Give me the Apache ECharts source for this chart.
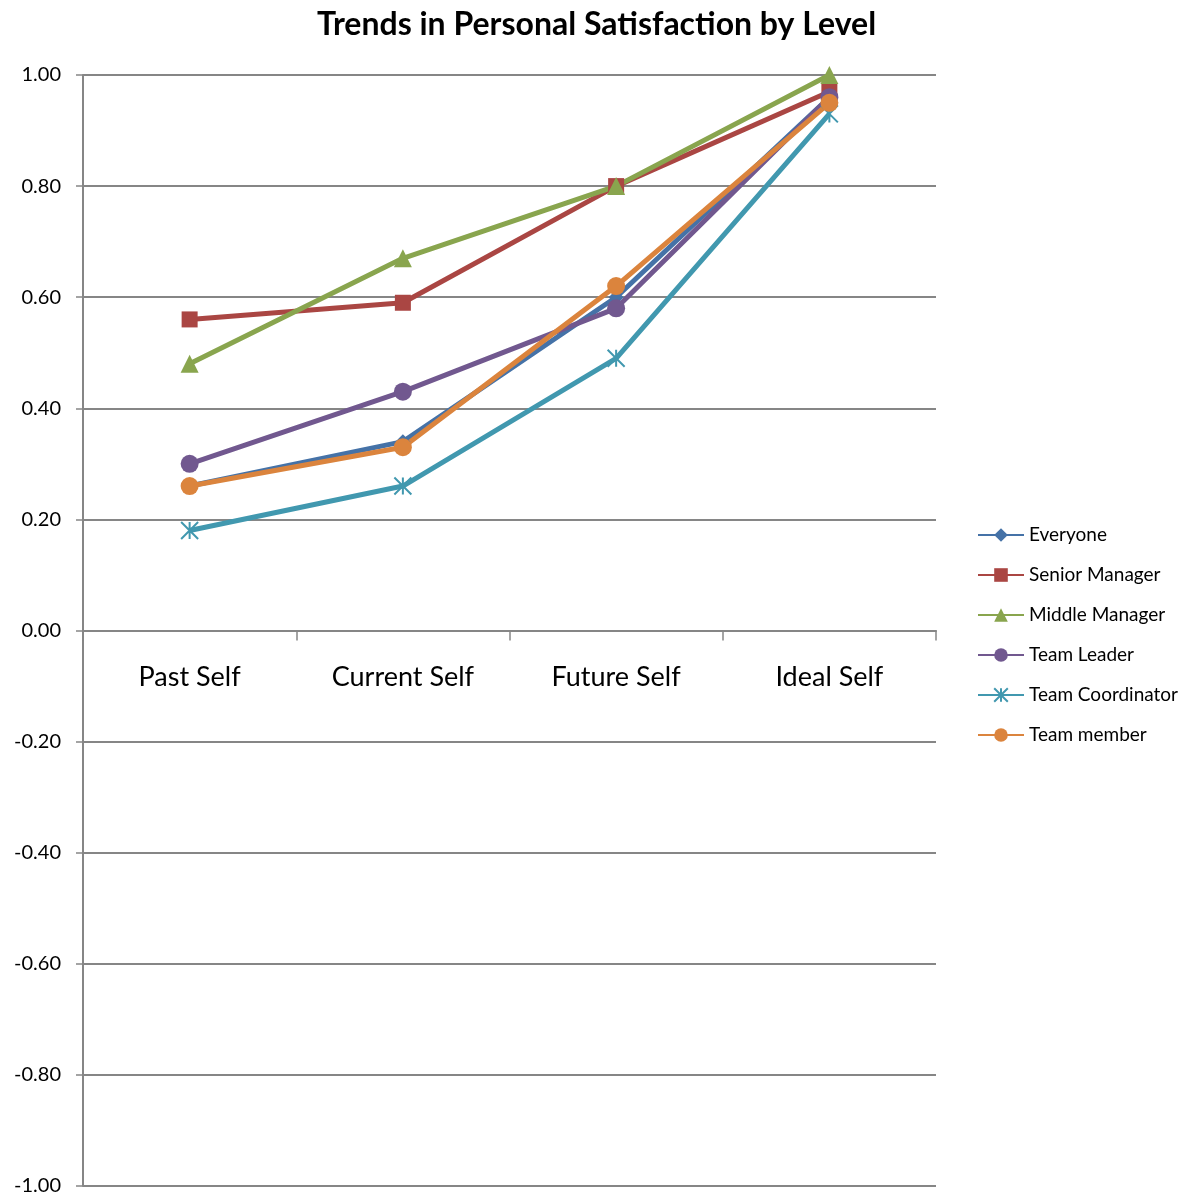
<!DOCTYPE html>
<html>
<head>
<meta charset="utf-8">
<script src="https://cdn.jsdelivr.net/npm/echarts@6/dist/echarts.min.js"></script>
<style>
  html, body { margin: 0; padding: 0; background: #fff; }
  #chart { width: 1193px; height: 1196px; }
</style>
</head>
<body>
<div id="chart"></div>
<script>
// Satisfaction ratings per self-view, one series per job level
const categories = ['Past Self', 'Current Self', 'Future Self', 'Ideal Self'];
const everyone          = [0.26, 0.34, 0.60, 0.96];
const seniorManager     = [0.56, 0.59, 0.80, 0.97];
const middleManager     = [0.48, 0.67, 0.80, 1.00];
const teamLeader        = [0.30, 0.43, 0.58, 0.96];
const teamCoordinator   = [0.18, 0.26, 0.49, 0.93];
const teamMember        = [0.26, 0.33, 0.62, 0.95];
const yTicks = { min: -1, max: 1, step: 0.2 };

const FONT = 'Lato, "Liberation Sans", sans-serif';
const asterisk = 'path://M0,0 L10,10 M10,0 L0,10 M5,0 L5,10';

const GRID = { left: 83, right: 257, top: 75, bottom: 10 };
const plotHeight = 1196 - GRID.top - GRID.bottom;
// the category axis sits on the zero line, halfway up the plot
const zeroOffset = -plotHeight * (0 - yTicks.min) / (yTicks.max - yTicks.min);

function series(name, data, color, symbol, size, extra) {
  return Object.assign({
    name: name,
    type: 'line',
    data: data,
    symbol: symbol,
    symbolSize: size,
    color: color,
    lineStyle: { color: color, width: 5 },
    itemStyle: { color: color },
    emphasis: { disabled: true },
    z: 2
  }, extra || {});
}

const chart = echarts.init(document.getElementById('chart'), null, { renderer: 'canvas' });
chart.setOption({
  animation: false,
  backgroundColor: '#ffffff',
  title: {
    text: 'Trends in Personal Satisfaction by Level',
    left: 'center',
    top: 4,
    textStyle: { fontFamily: FONT, fontWeight: 'bold', fontSize: 32, color: '#000' }
  },
  grid: Object.assign({ containLabel: false, outerBoundsMode: 'none' }, GRID),
  legend: {
    orient: 'vertical',
    left: 972,
    top: 520,
    itemWidth: 46,
    itemHeight: 17,
    itemGap: 20,
    textStyle: { fontFamily: FONT, fontSize: 19, lineHeight: 20, color: '#000' },
    lineStyle: { width: 2 },
    data: ['Everyone', 'Senior Manager', 'Middle Manager', 'Team Leader', 'Team Coordinator', 'Team member']
  },
  xAxis: {
    type: 'category',
    data: categories,
    boundaryGap: true,
    offset: zeroOffset,
    axisLine: { onZero: false, lineStyle: { color: '#868686', width: 2 } },
    axisTick: { show: true, length: 10, lineStyle: { color: '#868686', width: 1.5 } },
    axisLabel: { margin: 33, fontFamily: FONT, fontSize: 27, color: '#000' },
    splitLine: { show: false }
  },
  yAxis: {
    type: 'value',
    min: yTicks.min,
    max: yTicks.max,
    interval: yTicks.step,
    axisLine: { show: true, lineStyle: { color: '#868686', width: 2 } },
    axisTick: { show: true, length: 7, lineStyle: { color: '#868686', width: 1.5 } },
    axisLabel: {
      margin: 22,
      fontFamily: FONT, fontSize: 20, color: '#000',
      formatter: v => v.toFixed(2)
    },
    splitLine: { show: true, lineStyle: { color: '#868686', width: 2 } }
  },
  series: [
    series('Everyone', everyone, '#4572A7', 'diamond', 15),
    series('Senior Manager', seniorManager, '#AA4643', 'rect', 16),
    series('Middle Manager', middleManager, '#89A54E', 'triangle', 18),
    series('Team Leader', teamLeader, '#71588F', 'circle', 18),
    series('Team Coordinator', teamCoordinator, '#4198AF', asterisk, 17, {
      itemStyle: { color: 'rgba(0,0,0,0)', borderColor: '#4198AF', borderWidth: 2 }
    }),
    series('Team member', teamMember, '#DB843D', 'circle', 18)
  ]
});
</script>
</body>
</html>
